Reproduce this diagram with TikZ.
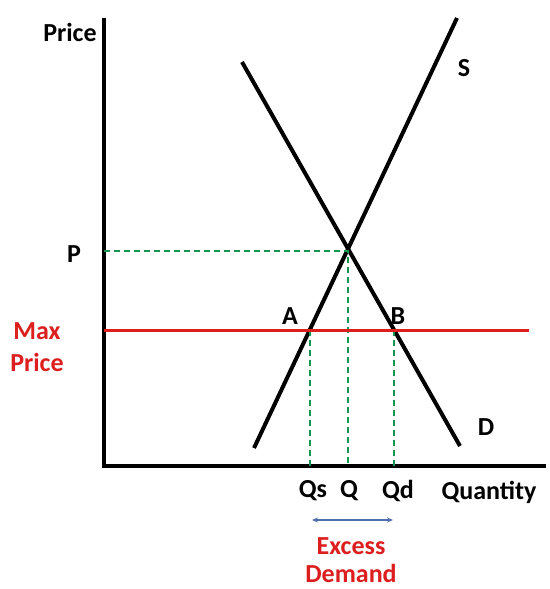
\documentclass[tikz,border=0pt]{standalone}
\usepackage{fontspec}
\setmainfont{Carlito}
\usetikzlibrary{arrows.meta,intersections}
\definecolor{myred}{RGB}{220,30,30}
\definecolor{mygreen}{RGB}{20,150,80}
\definecolor{myblue}{RGB}{80,110,170}
\tikzset{
  lbl/.style={font=\bfseries\fontsize{26}{28}\selectfont, inner sep=0pt},
  redlbl/.style={lbl, text=myred},
  curve/.style={line width=4pt},
  axis/.style={line width=4pt},
  guide/.style={mygreen, line width=1.5pt, dash pattern=on 6pt off 4pt}
}
\begin{document}
\begin{tikzpicture}[x=1pt,y=-1pt]
\useasboundingbox (0,0) rectangle (549,589);
% axes
\coordinate (ytop) at (104,18);
\coordinate (orig) at (104,466);
\coordinate (xend) at (546,466);
\draw[axis] (ytop) -- (orig) -- (xend);
% curves
\coordinate (s1) at (254,448);
\coordinate (s2) at (457,18);
\coordinate (d1) at (242,62);
\coordinate (d2) at (460,446);
\draw[curve] (s1) -- (s2);
\draw[curve] (d1) -- (d2);
% key points
\coordinate (E) at (348,251);
\coordinate (Py) at (104,251);
\coordinate (Qx) at (348,466);
\coordinate (Apt) at (310,330);
\coordinate (Bpt) at (394,330);
\coordinate (Ax) at (310,466);
\coordinate (Bx) at (394,466);
\coordinate (mp1) at (104,330);
\coordinate (mp2) at (529,330);
% guides
\draw[guide] (Py) -- (E) -- (Qx);
\draw[guide] (Apt) -- (Ax);
\draw[guide] (Bpt) -- (Bx);
% max price
\draw[myred, line width=3pt] (mp1) -- (mp2);
% labels
\node[lbl] (price) at (70,32) {Price};
\node[lbl] (plab) at (74,254) {P};
\node[redlbl] (max) at (37,331) {Max};
\node[redlbl] (maxp) at (37,362) {Price};
\node[lbl] (alab) at (290,316) {A};
\node[lbl] (blab) at (398,316) {B};
\node[lbl] (slab) at (464,68) {S};
\node[lbl] (dlab) at (486,427) {D};
\node[lbl] (qs) at (313,491) {Qs};
\node[lbl] (q) at (349,491) {Q};
\node[lbl] (qd) at (398,491) {Qd};
\node[lbl] (quant) at (489,492) {Quantity};
\coordinate (ar1) at (312,520);
\coordinate (ar2) at (393,520);
\draw[myblue, line width=1.2pt, {Stealth[length=6pt,width=5pt]}-{Stealth[length=6pt,width=5pt]}] (ar1) -- (ar2);
\node[redlbl] (exc) at (351,546) {Excess};
\node[redlbl] (dem) at (351,573) {Demand};
\end{tikzpicture}
\end{document}
